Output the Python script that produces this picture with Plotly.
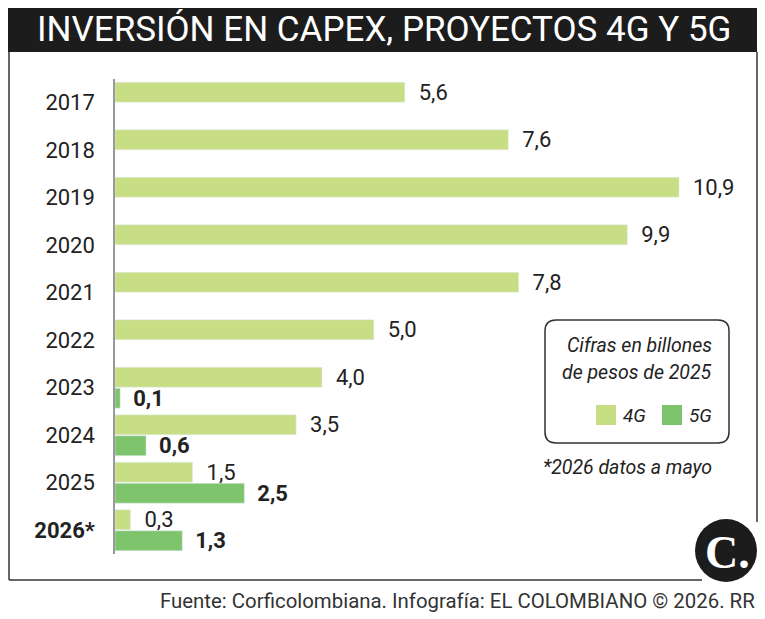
import plotly.graph_objects as go

years = ["2017", "2018", "2019", "2020", "2021", "2022", "2023", "2024", "2025", "2026"]
year_labels = ["2017", "2018", "2019", "2020", "2021", "2022", "2023", "2024", "2025", "<b>2026*</b>"]
capex_4g = [5.6, 7.6, 10.9, 9.9, 7.8, 5.0, 4.0, 3.5, 1.5, 0.3]
capex_5g = [None, None, None, None, None, None, 0.1, 0.6, 2.5, 1.3]

C4G = "#c7de85"
C5G = "#7ec46c"
FONT = "Roboto, sans-serif"
W, H = 765, 619
L, R, T, B = 115, 29, 79, 65
PW, PH = W - L - R, H - T - B


def px(x):
    return (x - L) / PW


def py(y):
    return (H - B - y) / PH


fig = go.Figure()
fig.add_trace(go.Bar(
    y=years, x=capex_4g, orientation="h", name="4G", marker_color=C4G,
    texttemplate="\u00a0\u00a0%{x:.1f}", textposition="outside", cliponaxis=False,
    constraintext="none", textfont=dict(family=FONT, size=22, color="#222"),
    showlegend=False, hoverinfo="skip"))
fig.add_trace(go.Bar(
    y=years, x=capex_5g, orientation="h", name="5G", marker_color=C5G,
    texttemplate="\u00a0\u2009<b>%{x:.1f}</b>", textposition="outside", cliponaxis=False,
    constraintext="none", textfont=dict(family=FONT, size=22, color="#222"),
    showlegend=False, hoverinfo="skip"))

shapes = []
annotations = []

# title bar
shapes.append(dict(type="rect", xref="paper", yref="paper", x0=px(8), x1=px(757),
                   y0=py(52), y1=py(8), fillcolor="#1c1c1c", line_width=0, layer="below"))
annotations.append(dict(xref="paper", yref="paper", x=px(384), y=py(30),
                        text="INVERSIÓN EN CAPEX, PROYECTOS 4G Y 5G", showarrow=False,
                        font=dict(family=FONT, size=35, color="white"),
                        xanchor="center", yanchor="middle"))
# frame
for (x0, y0, x1, y1) in [(9, 52, 9, 580), (9, 580, 702, 580), (757, 52, 757, 522)]:
    shapes.append(dict(type="line", xref="paper", yref="paper", x0=px(x0), y0=py(y0),
                       x1=px(x1), y1=py(y1), line=dict(color="#333", width=1.5)))

# legend box (rounded)
bx0, bx1, by0, by1, rr = 545, 729, 320, 443, 11
path = (f"M {px(bx0 + rr)},{py(by0)} L {px(bx1 - rr)},{py(by0)} "
        f"Q {px(bx1)},{py(by0)} {px(bx1)},{py(by0 + rr)} L {px(bx1)},{py(by1 - rr)} "
        f"Q {px(bx1)},{py(by1)} {px(bx1 - rr)},{py(by1)} L {px(bx0 + rr)},{py(by1)} "
        f"Q {px(bx0)},{py(by1)} {px(bx0)},{py(by1 - rr)} L {px(bx0)},{py(by0 + rr)} "
        f"Q {px(bx0)},{py(by0)} {px(bx0 + rr)},{py(by0)} Z")
shapes.append(dict(type="path", xref="paper", yref="paper", path=path,
                   line=dict(color="#333", width=1.5), fillcolor="white"))
annotations.append(dict(xref="paper", yref="paper", x=px(714), y=py(346),
                        text="<i>Cifras en billones</i>", showarrow=False,
                        font=dict(family=FONT, size=19.5, color="#222"),
                        xanchor="right", yanchor="middle"))
annotations.append(dict(xref="paper", yref="paper", x=px(714), y=py(372),
                        text="<i>de pesos de 2025</i>", showarrow=False,
                        font=dict(family=FONT, size=19.5, color="#222"),
                        xanchor="right", yanchor="middle"))
for (sx, col, lab) in [(596, C4G, "4G"), (662, C5G, "5G")]:
    shapes.append(dict(type="rect", xref="paper", yref="paper", x0=px(sx), x1=px(sx + 20),
                       y0=py(425), y1=py(405), fillcolor=col, line_width=0))
    annotations.append(dict(xref="paper", yref="paper", x=px(sx + 25), y=py(415),
                            text=f"<i>{lab}</i>", showarrow=False,
                            font=dict(family=FONT, size=19, color="#222"),
                            xanchor="left", yanchor="middle"))
annotations.append(dict(xref="paper", yref="paper", x=px(714), y=py(467),
                        text="<i>*2026 datos a mayo</i>", showarrow=False,
                        font=dict(family=FONT, size=19.5, color="#222"),
                        xanchor="right", yanchor="middle"))

# logo
shapes.append(dict(type="circle", xref="paper", yref="paper", x0=px(695), x1=px(757),
                   y0=py(582), y1=py(519), fillcolor="#1c1c1c", line_width=0))
annotations.append(dict(xref="paper", yref="paper", x=px(727), y=py(552),
                        text="<b>C.</b>", showarrow=False,
                        font=dict(family="Liberation Serif, DejaVu Serif, serif", size=46, color="white"),
                        xanchor="center", yanchor="middle"))

# footer
annotations.append(dict(xref="paper", yref="paper", x=px(757), y=py(601),
                        text="Fuente: Corficolombiana. Infografía: EL COLOMBIANO © 2026. RR",
                        showarrow=False, font=dict(family=FONT, size=20.4, color="#333"),
                        xanchor="right", yanchor="middle"))

fig.update_layout(
    width=W, height=H, margin=dict(l=L, r=R, t=T, b=B),
    paper_bgcolor="white", plot_bgcolor="white",
    barmode="group", bargap=0.116, bargroupgap=0.05,
    separators=",.",
    shapes=shapes, annotations=annotations,
    xaxis=dict(range=[0, 12], visible=False, fixedrange=True),
    yaxis=dict(categoryorder="array", categoryarray=years, autorange="reversed",
               tickmode="array", tickvals=years, ticktext=year_labels,
               showline=True, linecolor="#999", linewidth=1.5,
               ticks="", ticklabelstandoff=14, showgrid=False,
               tickfont=dict(family=FONT, size=22, color="#222")),
)

fig.write_html("out.html")
